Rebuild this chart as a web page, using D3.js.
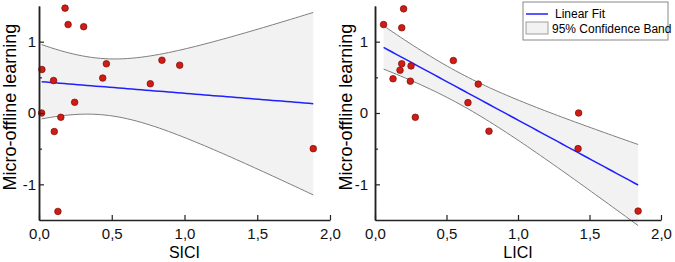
<!DOCTYPE html>
<html>
<head>
<meta charset="utf-8">
<script src="https://cdn.jsdelivr.net/npm/d3@7"></script>
<style>
  body { margin: 0; background: #fff; }
  svg { font-family: "Liberation Sans", Arial, sans-serif; }
</style>
</head>
<body>
<div id="chart"></div>
<script>
// Values (16 subjects each)
const siciX = [0.179, 0.20, 0.307, 0.02, 0.10, 0.463, 0.438, 0.765, 0.845, 0.967, 0.245, 0.018, 0.15, 0.105, 0.13, 1.885];
const siciY = [1.47, 1.24, 1.21, 0.61, 0.455, 0.69, 0.49, 0.41, 0.74, 0.67, 0.15, 0.0, -0.06, -0.26, -1.38, -0.50];

const liciX = [0.06, 0.20, 0.187, 0.187, 0.175, 0.252, 0.126, 0.247, 0.282, 0.548, 0.722, 0.65, 0.797, 1.424, 1.42, 1.84];
const liciY = [1.24, 1.46, 1.195, 0.69, 0.60, 0.66, 0.48, 0.446, -0.06, 0.735, 0.405, 0.145, -0.255, 0.0, -0.50, -1.375];

const xMajor = [0, 0.5, 1, 1.5, 2];
const xMinor = [0.25, 0.75, 1.25, 1.75];
const yMajor = [-1, 0, 1];
const yMinor = [-0.5, 0.5];

const legendLabels = ["Linear Fit", "95% Confidence Band"];

const svg = d3.select("#chart").append("svg")
    .attr("width", 675)
    .attr("height", 262);

// linear fit + 95% confidence band of the mean
function fitLine(xs, ys) {
    const n = xs.length;
    const mx = d3.mean(xs), my = d3.mean(ys);
    let sxx = 0, sxy = 0;
    xs.forEach((x, i) => { sxx += (x - mx) ** 2; sxy += (x - mx) * (ys[i] - my); });
    const b = sxy / sxx, a = my - b * mx;
    let sse = 0;
    xs.forEach((x, i) => { sse += (ys[i] - a - b * x) ** 2; });
    const s = Math.sqrt(sse / (n - 2));
    const t = 2.145; // t(0.975, 14)
    const lo = d3.min(xs), hi = d3.max(xs);
    const grid = d3.range(0, 61).map(k => lo + (hi - lo) * k / 60);
    const band = grid.map(x => {
        const yh = a + b * x;
        const se = s * Math.sqrt(1 / n + (x - mx) ** 2 / sxx);
        return { x, yh, up: yh + t * se, dn: yh - t * se };
    });
    return band;
}

function drawPanel(xs, ys, o) {
    const x = d3.scaleLinear().domain([0, 2]).range([o.left, o.right]);
    const y = d3.scaleLinear().domain([-1.5, 1.5]).range([220, 6]);
    const g = svg.append("g");

    const band = fitLine(xs, ys);

    g.append("path")
        .datum(band)
        .attr("fill", "#f2f2f2")
        .attr("d", d3.area().x(d => x(d.x)).y0(d => y(d.dn)).y1(d => y(d.up)));

    ["up", "dn"].forEach(k => {
        g.append("path")
            .datum(band)
            .attr("fill", "none")
            .attr("stroke", "#7f7f7f")
            .attr("stroke-width", 1)
            .attr("d", d3.line().x(d => x(d.x)).y(d => y(d[k])));
    });

    g.append("path")
        .datum(band)
        .attr("fill", "none")
        .attr("stroke", "#2020ff")
        .attr("stroke-width", 1.5)
        .attr("d", d3.line().x(d => x(d.x)).y(d => y(d.yh)));

    g.selectAll(".pt")
        .data(xs.map((v, i) => [v, ys[i]]))
        .enter().append("circle")
        .attr("class", "pt")
        .attr("cx", d => x(d[0]))
        .attr("cy", d => y(d[1]))
        .attr("r", 3.3)
        .attr("fill", "#d01c14")
        .attr("stroke", "#7a0a05")
        .attr("stroke-width", 0.7);

    // axes, ticks pointing inward
    const fmtX = d => d3.format(".1f")(d).replace(".", ",");
    const xa = g.append("g").attr("transform", "translate(0,220)");
    xa.call(d3.axisBottom(x).tickValues(xMinor).tickSizeInner(-3).tickSizeOuter(0).tickFormat(""));
    xa.call(d3.axisBottom(x).tickValues(xMajor).tickSizeInner(-5).tickSizeOuter(0).tickPadding(8).tickFormat(fmtX));

    const ya = g.append("g").attr("transform", `translate(${o.left},0)`);
    ya.append("g").call(d3.axisLeft(y).tickValues(yMinor).tickSizeInner(-3).tickSizeOuter(0).tickFormat(""));
    ya.append("g").call(d3.axisLeft(y).tickValues(yMajor).tickSizeInner(-5).tickSizeOuter(0).tickPadding(o.ypad).tickFormat(d => String(d)));

    g.selectAll(".domain").attr("stroke", "#222").attr("stroke-width", 1.5);
    g.selectAll(".tick line").attr("stroke", "#222").attr("stroke-width", 1.2);
    g.selectAll(".tick text").style("font-size", "15px").attr("fill", "#111")
        .style("font-family", "Liberation Sans, Arial, sans-serif");

    g.append("text")
        .attr("x", (o.left + o.right) / 2)
        .attr("y", 258)
        .attr("text-anchor", "middle")
        .style("font-size", "16px")
        .text(o.xTitle);

    g.append("text")
        .attr("transform", `translate(${o.left - 23},107) rotate(-90)`)
        .attr("text-anchor", "middle")
        .style("font-size", "18px")
        .text("Micro-offline learning");
}

drawPanel(siciX, siciY, { left: 39, right: 330, ypad: 3, xTitle: "SICI" });
drawPanel(liciX, liciY, { left: 375, right: 661, ypad: 7, xTitle: "LICI" });

// legend, top right of second panel
const legend = svg.append("g").attr("transform", "translate(523,2)");
legend.append("rect")
    .attr("width", 145).attr("height", 38)
    .attr("fill", "#fff").attr("stroke", "#888").attr("stroke-width", 1);
legend.append("line")
    .attr("x1", 3).attr("x2", 25).attr("y1", 12).attr("y2", 12)
    .attr("stroke", "#2020ff").attr("stroke-width", 1.5);
legend.append("rect")
    .attr("x", 3).attr("y", 20).attr("width", 22).attr("height", 12)
    .attr("fill", "#f2f2f2").attr("stroke", "#888").attr("stroke-width", 0.8);
legend.selectAll(".lt")
    .data(legendLabels)
    .enter().append("text")
    .attr("class", "lt")
    .attr("x", (d, i) => i === 0 ? 32 : 29)
    .attr("y", (d, i) => 16 + i * 15)
    .style("font-size", "12px")
    .text(d => d);
</script>
</body>
</html>
